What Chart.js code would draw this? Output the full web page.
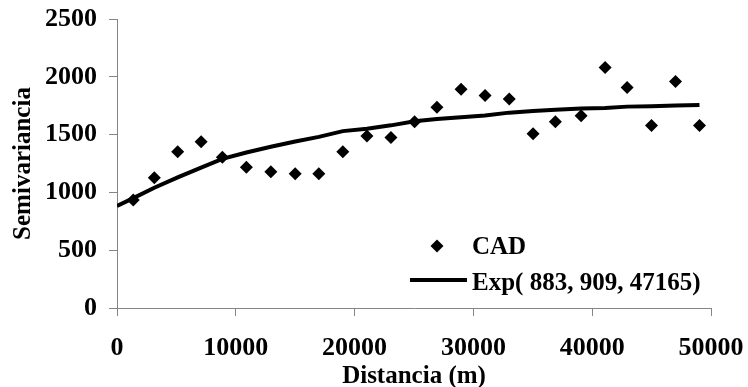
<!DOCTYPE html>
<html>
<head>
<meta charset="utf-8">
<script src="https://cdn.jsdelivr.net/npm/chart.js@4/dist/chart.umd.min.js"></script>
<style>
  html, body { margin: 0; padding: 0; background: #fff; }
  #wrap { width: 748px; height: 387px; }
</style>
</head>
<body>
<div id="wrap"><canvas id="semivariogram" width="748" height="387"></canvas></div>
<script>
// Experimental semivariogram (lag distance in m, semivariance)
const lagDist = [1370, 3140, 5110, 7080, 8870, 10890, 12950, 15000, 16990, 19010, 21040, 23060, 25050,
                 26930, 28960, 30980, 33020, 35020, 36900, 39070, 41090, 42940, 44990, 47010, 49030];
const semivar = [934, 1127, 1352, 1439, 1304, 1217, 1179, 1162, 1162, 1352, 1488, 1474, 1612,
                 1737, 1893, 1838, 1807, 1508, 1612, 1662, 2080, 1907, 1578, 1959, 1578];

// Fitted exponential model, sampled at the lag distances
const modelDist = [0, 1370, 3140, 5110, 7080, 8870, 10890, 12950, 15000, 16990, 19010, 21040, 23060, 25050,
                   26930, 28960, 30980, 33020, 35020, 36900, 39070, 41090, 42940, 44990, 47010, 49030];
const modelVals = [883, 950, 1040, 1130, 1215, 1290, 1345, 1395, 1440, 1480, 1530, 1550, 1580, 1615,
                   1635, 1650, 1665, 1690, 1705, 1715, 1725, 1730, 1742, 1745, 1752, 1755];

const xTicks = [0, 10000, 20000, 30000, 40000, 50000];
const yTicks = [0, 500, 1000, 1500, 2000, 2500];

const seriesNames = ['CAD', 'Exp( 883, 909, 47165)'];

const FONT = '"Liberation Serif", "Times New Roman", serif';
const AXIS_GREY = '#858585';

function toXY(xs, ys) {
  return xs.map((x, i) => ({ x: x, y: ys[i] }));
}

// Legend drawn inside the plot, bottom right
const insideLegend = {
  id: 'insideLegend',
  afterDatasetsDraw(chart) {
    const { ctx, chartArea } = chart;
    const textX = chartArea.right - 239;
    ctx.save();
    ctx.fillStyle = '#000';
    ctx.strokeStyle = '#000';
    ctx.font = 'bold 25px ' + FONT;
    ctx.textBaseline = 'alphabetic';
    ctx.textAlign = 'left';

    // diamond marker row
    const my = chartArea.bottom - 62;
    const mx = textX - 35;
    ctx.beginPath();
    ctx.moveTo(mx - 6.5, my);
    ctx.lineTo(mx, my - 6.5);
    ctx.lineTo(mx + 6.5, my);
    ctx.lineTo(mx, my + 6.5);
    ctx.closePath();
    ctx.fill();
    ctx.fillText(seriesNames[0], textX, my + 8);

    // line sample row
    const ly = chartArea.bottom - 28;
    ctx.lineWidth = 4;
    ctx.beginPath();
    ctx.moveTo(textX - 62, ly);
    ctx.lineTo(textX - 5, ly);
    ctx.stroke();
    ctx.fillText(seriesNames[1], textX, ly + 10);
    ctx.restore();
  }
};

const ctx = document.getElementById('semivariogram').getContext('2d');
new Chart(ctx, {
  type: 'scatter',
  data: {
    datasets: [
      {
        label: seriesNames[0],
        data: toXY(lagDist, semivar),
        pointStyle: 'rectRot',
        pointRadius: 6.5,
        pointBackgroundColor: '#000',
        pointBorderColor: '#000',
        pointBorderWidth: 0,
        showLine: false,
        order: 1
      },
      {
        label: seriesNames[1],
        data: toXY(modelDist, modelVals),
        showLine: true,
        borderColor: '#000',
        borderWidth: 4,
        pointRadius: 0,
        tension: 0,
        fill: false,
        order: 2
      }
    ]
  },
  options: {
    responsive: false,
    animation: false,
    devicePixelRatio: 1,
    layout: { padding: { top: 19, right: 37, left: 0, bottom: 0 } },
    plugins: {
      legend: { display: false },
      tooltip: { enabled: false }
    },
    scales: {
      x: {
        type: 'linear',
        min: 0,
        max: 50000,
        afterBuildTicks: (scale) => { scale.ticks = xTicks.map(v => ({ value: v })); },
        afterFit: (scale) => {
          scale.height = 79;
          scale.paddingLeft = 0;
          scale.paddingRight = 0;
        },
        ticks: {
          color: '#000',
          padding: 17,
          maxRotation: 0,
          font: { family: FONT, size: 26, weight: 'bold' },
          callback: (v) => String(v)
        },
        grid: { drawOnChartArea: false, drawTicks: true, tickLength: 8, color: AXIS_GREY, lineWidth: 1 },
        border: { color: AXIS_GREY, width: 1 },
        title: {
          display: true,
          text: 'Distancia (m)',
          color: '#000',
          font: { family: FONT, size: 25, weight: 'bold', lineHeight: 0.8 },
          padding: 0
        }
      },
      y: {
        min: 0,
        max: 2500,
        afterBuildTicks: (scale) => { scale.ticks = yTicks.map(v => ({ value: v })); },
        afterFit: (scale) => {
          scale.width = 117;
          scale.paddingTop = 0;
          scale.paddingBottom = 0;
        },
        ticks: {
          color: '#000',
          padding: 12,
          font: { family: FONT, size: 26, weight: 'bold' },
          callback: (v) => String(v)
        },
        grid: { drawOnChartArea: false, drawTicks: true, tickLength: 8, color: AXIS_GREY, lineWidth: 1 },
        border: { color: AXIS_GREY, width: 1 },
        title: {
          display: true,
          text: 'Semivariancia',
          color: '#000',
          font: { family: FONT, size: 25, weight: 'bold', lineHeight: 1.2 },
          padding: { top: 9, bottom: 0 }
        }
      }
    }
  },
  plugins: [insideLegend]
});
</script>
</body>
</html>
